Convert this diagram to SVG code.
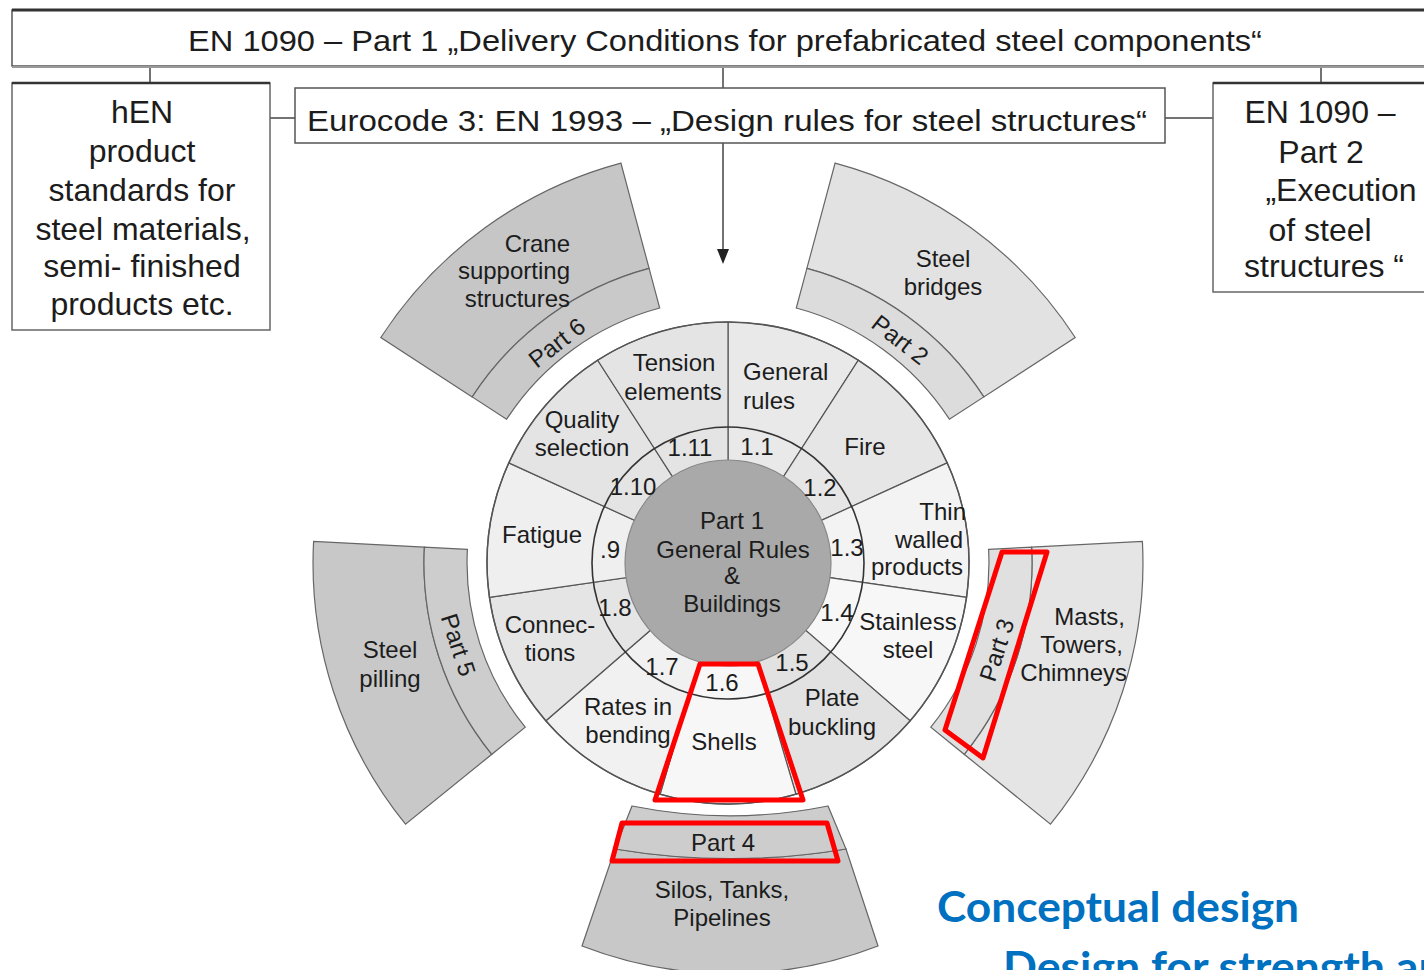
<svg xmlns="http://www.w3.org/2000/svg" width="1424" height="970" viewBox="0 0 1424 970">
<style>
text{font-family:"Liberation Sans",Arial,sans-serif;fill:#1c1c1c}
.box{fill:#fff;stroke:#555;stroke-width:1.5}
.bt{font-size:30px;text-anchor:middle}
.bb{font-size:32px;text-anchor:middle}
.t{font-size:24px;text-anchor:middle}
.ts{font-size:24px;text-anchor:start}
.te{font-size:24px;text-anchor:end}
.sec{stroke:#555;stroke-width:1.2}
.part{stroke:#666;stroke-width:1.2}
.hl{fill:none;stroke:#f00;stroke-width:5;stroke-linejoin:round}
.con{stroke:#444;stroke-width:1.5;fill:none}
.blue{font-family:Lato,"Open Sans",sans-serif;font-weight:bold;font-size:42px;fill:#0070c0}
</style>
<rect width="1424" height="970" fill="#fff"/>

<g id="connectors">
<line class="con" x1="150" y1="66" x2="150" y2="83"/>
<line class="con" x1="723" y1="66" x2="723" y2="88"/>
<line class="con" x1="1321" y1="66" x2="1321" y2="83"/>
<line class="con" x1="270" y1="118" x2="295" y2="118"/>
<line class="con" x1="1165" y1="118" x2="1213" y2="118"/>
<line class="con" x1="723" y1="143" x2="723" y2="250"/>
<path d="M717,249 L729,249 L723,264 Z" fill="#222"/>
</g>

<g id="top-box">
<rect class="box" x="12" y="10" width="1430" height="56"/>
<line x1="12" y1="10" x2="1424" y2="10" stroke="#333" stroke-width="3"/>
<line x1="12" y1="67" x2="1424" y2="67" stroke="#999" stroke-width="2"/>
<text class="bt" x="725" y="51" textLength="1074" lengthAdjust="spacingAndGlyphs">EN 1090 – Part 1 „Delivery Conditions for prefabricated steel components“</text>
</g>

<g id="hen-box">
<rect x="12" y="83" width="258" height="247" fill="#fff" stroke="#666" stroke-width="1.5"/>
<line x1="12" y1="83" x2="270" y2="83" stroke="#333" stroke-width="2.5"/>
<text class="bb" x="142" y="123">hEN</text>
<text class="bb" x="142" y="162">product</text>
<text class="bb" x="142" y="201">standards for</text>
<text class="bb" x="143" y="240">steel materials,</text>
<text class="bb" x="142" y="277">semi- finished</text>
<text class="bb" x="142" y="315">products etc.</text>
</g>

<g id="eurocode-box">
<rect class="box" x="295" y="88" width="870" height="55"/>
<text class="bt" x="727" y="131" textLength="840" lengthAdjust="spacingAndGlyphs">Eurocode 3: EN 1993 – „Design rules for steel structures“</text>
</g>

<g id="en1090-2-box">
<rect x="1213" y="83" width="230" height="209" fill="#fff" stroke="#666" stroke-width="1.5"/>
<line x1="1213" y1="83" x2="1424" y2="83" stroke="#333" stroke-width="2.5"/>
<text class="bb" x="1320" y="123">EN 1090 –</text>
<text class="bb" x="1321" y="163">Part 2</text>
<text class="bb" x="1341" y="201">„Execution</text>
<text class="bb" x="1320" y="241">of steel</text>
<text class="bb" x="1324" y="277">structures “</text>
</g>

<g id="part6">
<path class="part" fill="#c6c6c6" d="M472.2,396.9 L380.8,337.5 A414,414 0 0 1 620.9,163.1 L649.1,268.4 A305,305 0 0 0 472.2,396.9 Z"/>
<path class="part" fill="#c9c9c9" d="M506.6,419.2 L472.2,396.9 A305,305 0 0 1 649.1,268.4 L659.7,308.0 A264,264 0 0 0 506.6,419.2 Z"/>
<text class="te" x="570" y="252">Crane</text>
<text class="te" x="570" y="279">supporting</text>
<text class="te" x="570" y="307">structures</text>
<text class="t" transform="translate(557,343) rotate(-38)" y="8">Part 6</text>
</g>

<g id="part2">
<path class="part" fill="#e2e2e2" d="M806.9,268.4 L835.1,163.1 A414,414 0 0 1 1075.2,337.5 L983.8,396.9 A305,305 0 0 0 806.9,268.4 Z"/>
<path class="part" fill="#dcdcdc" d="M796.3,308.0 L806.9,268.4 A305,305 0 0 1 983.8,396.9 L949.4,419.2 A264,264 0 0 0 796.3,308.0 Z"/>
<text class="t" x="943" y="267">Steel</text>
<text class="t" x="943" y="295">bridges</text>
<text class="t" transform="translate(900,340) rotate(38)" y="8">Part 2</text>
</g>

<g id="part3">
<path class="part" fill="#e5e5e5" d="M1031.6,547.1 L1142.4,541.3 A415,415 0 0 1 1050.5,824.2 L964.2,754.3 A304,304 0 0 0 1031.6,547.1 Z"/>
<path class="part" fill="#e0e0e0" d="M988.6,549.3 L1031.6,547.1 A304,304 0 0 1 964.2,754.3 L930.8,727.2 A261,261 0 0 0 988.6,549.3 Z"/>
<text class="te" x="1125" y="625">Masts,</text>
<text class="te" x="1123" y="653">Towers,</text>
<text class="te" x="1127" y="681">Chimneys</text>
<text class="t" transform="translate(997,650) rotate(-72)" y="8">Part 3</text>
</g>

<g id="part5">
<path class="part" fill="#c8c8c8" d="M424.4,547.1 L313.6,541.3 A415,415 0 0 0 405.5,824.2 L491.8,754.3 A304,304 0 0 1 424.4,547.1 Z"/>
<path class="part" fill="#cdcdcd" d="M467.4,549.3 L424.4,547.1 A304,304 0 0 0 491.8,754.3 L525.2,727.2 A261,261 0 0 1 467.4,549.3 Z"/>
<text class="t" x="390" y="658">Steel</text>
<text class="t" x="390" y="687">pilling</text>
<text class="t" transform="translate(458,645) rotate(72)" y="8">Part 5</text>
</g>

<g id="part4">
<path class="part" fill="#c8c8c8" d="M615,849 A700,700 0 0 0 846,849 L878,946 A410,410 0 0 1 582,946 Z"/>
<path class="part" fill="#cdcdcd" d="M632,806 A500,500 0 0 0 828,806 L846,849 A700,700 0 0 1 615,849 Z"/>
<text class="t" x="723" y="851">Part 4</text>
<text class="t" x="722" y="898">Silos, Tanks,</text>
<text class="t" x="722" y="926">Pipelines</text>
</g>

<g id="part1-ring">
<path id="s-general" class="sec" fill="#e9e9e9" d="M728,563 L728,322 A241,241 0 0 1 858.3,360.2 Z"/>
<path id="s-fire" class="sec" fill="#e6e6e6" d="M728,563 L858.3,360.2 A241,241 0 0 1 947.2,462.9 Z"/>
<path id="s-thin" class="sec" fill="#f3f3f3" d="M728,563 L947.2,462.9 A241,241 0 0 1 966.5,597.3 Z"/>
<path id="s-stainless" class="sec" fill="#f7f7f7" d="M728,563 L966.5,597.3 A241,241 0 0 1 910.1,720.8 Z"/>
<path id="s-plate" class="sec" fill="#e2e2e2" d="M728,563 L910.1,720.8 A241,241 0 0 1 795.9,794.2 Z"/>
<path id="s-shells" class="sec" fill="#f7f7f7" d="M728,563 L795.9,794.2 A241,241 0 0 1 660.1,794.2 Z"/>
<path id="s-rates" class="sec" fill="#f1f1f1" d="M728,563 L660.1,794.2 A241,241 0 0 1 545.9,720.8 Z"/>
<path id="s-connections" class="sec" fill="#e5e5e5" d="M728,563 L545.9,720.8 A241,241 0 0 1 489.5,597.3 Z"/>
<path id="s-fatigue" class="sec" fill="#efefef" d="M728,563 L489.5,597.3 A241,241 0 0 1 508.8,462.9 Z"/>
<path id="s-quality" class="sec" fill="#e4e4e4" d="M728,563 L508.8,462.9 A241,241 0 0 1 597.7,360.2 Z"/>
<path id="s-tension" class="sec" fill="#e4e4e4" d="M728,563 L597.7,360.2 A241,241 0 0 1 728,322 Z"/>
<circle cx="728" cy="563" r="241" fill="none" stroke="#555" stroke-width="1.5"/>
<circle cx="728" cy="563" r="136" fill="none" stroke="#333" stroke-width="1.6"/>
<circle cx="728" cy="563" r="103" fill="#a9a9a9" stroke="#888" stroke-width="1.2"/>
<text class="t" x="674" y="371">Tension</text>
<text class="t" x="673" y="400">elements</text>
<text class="ts" x="743" y="380">General</text>
<text class="ts" x="743" y="409">rules</text>
<text class="t" x="582" y="428">Quality</text>
<text class="t" x="582" y="456">selection</text>
<text class="t" x="865" y="455">Fire</text>
<text class="te" x="966" y="520">Thin</text>
<text class="te" x="963" y="548">walled</text>
<text class="te" x="963" y="575">products</text>
<text class="t" x="908" y="630">Stainless</text>
<text class="t" x="908" y="658">steel</text>
<text class="t" x="832" y="706">Plate</text>
<text class="t" x="832" y="735">buckling</text>
<text class="t" x="724" y="750">Shells</text>
<text class="t" x="628" y="715">Rates in</text>
<text class="t" x="628" y="743">bending</text>
<text class="t" x="550" y="633">Connec-</text>
<text class="t" x="550" y="661">tions</text>
<text class="t" x="542" y="543">Fatigue</text>
<text class="t" x="690" y="456">1.11</text>
<text class="t" x="757" y="455">1.1</text>
<text class="t" x="820" y="496">1.2</text>
<text class="t" x="847" y="556">1.3</text>
<text class="t" x="837" y="621">1.4</text>
<text class="t" x="792" y="671">1.5</text>
<text class="t" x="722" y="691">1.6</text>
<text class="t" x="662" y="675">1.7</text>
<text class="t" x="615" y="616">1.8</text>
<text class="t" x="610" y="558">.9</text>
<text class="t" x="633" y="495">1.10</text>
<text class="t" x="732" y="529">Part 1</text>
<text class="t" x="733" y="558">General Rules</text>
<text class="t" x="732" y="584">&amp;</text>
<text class="t" x="732" y="612">Buildings</text>
</g>

<g id="highlights">
<path class="hl" d="M700,664 L758,664 L803,800 L655,800 Z"/>
<path class="hl" d="M622,823 L827,823 L838,861 L612,861 Z"/>
<path class="hl" d="M1002,552 L1047,552 L983,758 L945,730 Z"/>
</g>

<g id="caption">
<text class="blue" x="937" y="922" textLength="362" lengthAdjust="spacingAndGlyphs">Conceptual design</text>
<text class="blue" x="1003" y="982" textLength="466" lengthAdjust="spacingAndGlyphs">Design for strength and</text>
</g>
</svg>
